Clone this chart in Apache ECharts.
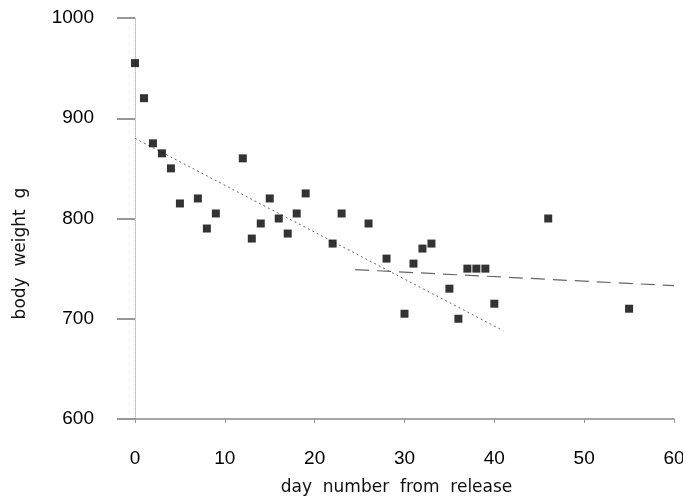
<!DOCTYPE html>
<html>
<head>
<meta charset="utf-8">
<script src="https://cdn.jsdelivr.net/npm/echarts@6/dist/echarts.min.js"></script>
<style>
  html, body { margin: 0; padding: 0; background: #fff; }
  #chart { width: 683px; height: 499px; }
</style>
</head>
<body>
<div id="chart"></div>
<script>
// days after release and body weight (g)
const days = [0, 1, 2, 3, 4, 5, 7, 8, 9, 12, 13, 14, 15, 16, 17, 18, 19, 22, 23, 26,
  28, 30, 31, 32, 33, 35, 36, 37, 38, 39, 40, 46, 55];
const weights = [955, 920, 875, 865, 850, 815, 820, 790, 805, 860, 780, 795, 820, 800, 785, 805, 825, 775, 805, 795,
  760, 705, 755, 770, 775, 730, 700, 750, 750, 750, 715, 800, 710];

// fitted lines (end points)
const fitEarly = [[0, 880], [41, 688]];
const fitLate = [[24.5, 749], [60, 733]];

const xTicks = [0, 10, 20, 30, 40, 50, 60];
const yTicks = [600, 700, 800, 900, 1000];

const points = days.map((d, i) => [d, weights[i]]);

const chart = echarts.init(document.getElementById("chart"));

chart.setOption({
  animation: false,
  backgroundColor: "#fff",
  grid: { left: 135, right: 9, top: 18, bottom: 80, outerBoundsMode: "none" },
  xAxis: {
    type: "value",
    min: xTicks[0],
    max: xTicks[xTicks.length - 1],
    interval: 10,
    name: "day  number  from  release",
    nameLocation: "middle",
    nameGap: 60,
    nameTextStyle: { fontFamily: "DejaVu Sans", fontSize: 17, color: "#111", padding: [0, 16, 0, 0] },
    axisLine: { lineStyle: { color: "#888", width: 1.5 } },
    axisTick: { show: true, length: 6, lineStyle: { color: "#999", type: "dashed" } },
    axisLabel: { margin: 30, fontFamily: "Liberation Sans", fontSize: 19, color: "#000",
      formatter: (v) => String(v) },
    splitLine: { show: false },
  },
  yAxis: {
    type: "value",
    min: yTicks[0],
    max: yTicks[yTicks.length - 1],
    interval: 100,
    name: "body  weight  g",
    nameLocation: "middle",
    nameGap: 106,
    nameTextStyle: { fontFamily: "DejaVu Sans", fontSize: 17, color: "#111", padding: [0, 70, 0, 0] },
    axisLine: { show: true, lineStyle: { color: "#bbb", type: "dotted" } },
    axisTick: { show: true, length: 18, lineStyle: { color: "#777", width: 1.5 } },
    axisLabel: { margin: 41, fontFamily: "Liberation Sans", fontSize: 19, color: "#000",
      formatter: (v) => String(v) },
    splitLine: { show: false },
  },
  series: [
    {
      type: "line",
      data: fitEarly,
      showSymbol: false,
      lineStyle: { color: "#666", width: 1, type: [2, 3] },
      z: 1,
    },
    {
      type: "line",
      data: fitLate,
      showSymbol: false,
      lineStyle: { color: "#666", width: 1.2, type: [14, 8] },
      z: 1,
    },
    {
      type: "scatter",
      data: points,
      symbol: "rect",
      symbolSize: 8,
      itemStyle: { color: "#000" },
      z: 3,
    },
  ],
});
</script>
</body>
</html>
